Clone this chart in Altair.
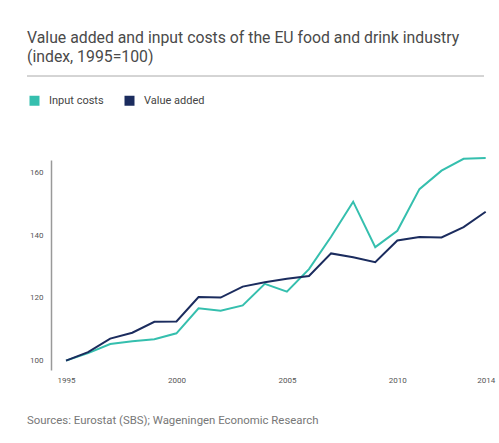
import altair as alt
import pandas as pd

years = list(range(1995, 2015))
input_costs = [100, 102.4, 105.3, 106.2, 106.8, 108.7, 116.7, 115.9, 117.6, 124.5,
               122.0, 129.2, 139.5, 150.7, 136.2, 141.4, 154.7, 160.6, 164.4, 164.6]
value_added = [100, 102.7, 107.0, 108.9, 112.4, 112.5, 120.3, 120.1, 123.6, 125.0,
               126.1, 127.0, 134.2, 133.0, 131.4, 138.3, 139.4, 139.3, 142.6, 147.5]
series_names = ["Input costs", "Value added"]
series_colors = ["#35bfae", "#1b2c5e"]
x_ticks = [1995, 2000, 2005, 2010, 2014]
y_ticks = [100, 120, 140, 160]
title_lines = ["Value added and input costs of the EU food and drink industry", "(index, 1995=100)"]
source_text = "Sources: Eurostat (SBS); Wageningen Economic Research"

FONT = "Roboto, Liberation Sans, sans-serif"

rows = []
for y, a, b in zip(years, input_costs, value_added):
    rows.append({"year": y, "series": series_names[0], "value": a})
    rows.append({"year": y, "series": series_names[1], "value": b})
df = pd.DataFrame(rows)

W, H = 438, 210

lines = alt.Chart(df).mark_line(strokeWidth=2).encode(
    x=alt.X("year:Q", scale=alt.Scale(domain=[1994.32, 2014.15], nice=False, zero=False),
            axis=alt.Axis(values=x_ticks, format="d", title=None, domain=False, ticks=False,
                          grid=False, labelPadding=6, labelFontSize=8, labelColor="#555",
                          labelFont=FONT)),
    y=alt.Y("value:Q", scale=alt.Scale(domain=[97, 164], nice=False, zero=False),
            axis=alt.Axis(values=y_ticks, title=None, ticks=False, grid=False,
                          domainColor="#999", domainWidth=1.5, labelPadding=8,
                          labelFontSize=8, labelColor="#555", labelFont=FONT)),
    color=alt.Color("series:N", scale=alt.Scale(domain=series_names, range=series_colors),
                    legend=alt.Legend(title=None, orient="none", legendX=-22, legendY=-65,
                                      direction="horizontal", symbolType="square",
                                      symbolSize=4, symbolStrokeWidth=8, symbolOpacity=1,
                                      labelFont=FONT, labelFontSize=11, labelColor="#444",
                                      columnPadding=8, labelOffset=9)),
)

title1 = alt.Chart(pd.DataFrame({"text": [title_lines[0]]})).mark_text(
    align="left", baseline="alphabetic", font=FONT, fontSize=15.8, color="#4a4a4a"
).encode(text="text:N", x=alt.value(-24), y=alt.value(-117))
title2 = alt.Chart(pd.DataFrame({"text": [title_lines[1]]})).mark_text(
    align="left", baseline="alphabetic", font=FONT, fontSize=15.8, color="#4a4a4a"
).encode(text="text:N", x=alt.value(-24), y=alt.value(-98))
rule = alt.Chart(pd.DataFrame({"a": [0]})).mark_rule(color="#aaa", strokeWidth=1).encode(
    x=alt.value(-24), x2=alt.value(433), y=alt.value(-84))
source = alt.Chart(pd.DataFrame({"text": [source_text]})).mark_text(
    align="left", baseline="alphabetic", font=FONT, fontSize=11.4, color="#777"
).encode(text="text:N", x=alt.value(-24), y=alt.value(264))

chart = alt.layer(lines, rule, title1, title2, source).properties(
    width=W, height=H,
    autosize=alt.AutoSizeParams(type="none"),
    padding={"left": 51, "top": 160, "right": 10, "bottom": 73},
    background="white",
).configure_view(stroke=None)

chart.save("out.html", embed_options={"renderer": "svg", "actions": False})
